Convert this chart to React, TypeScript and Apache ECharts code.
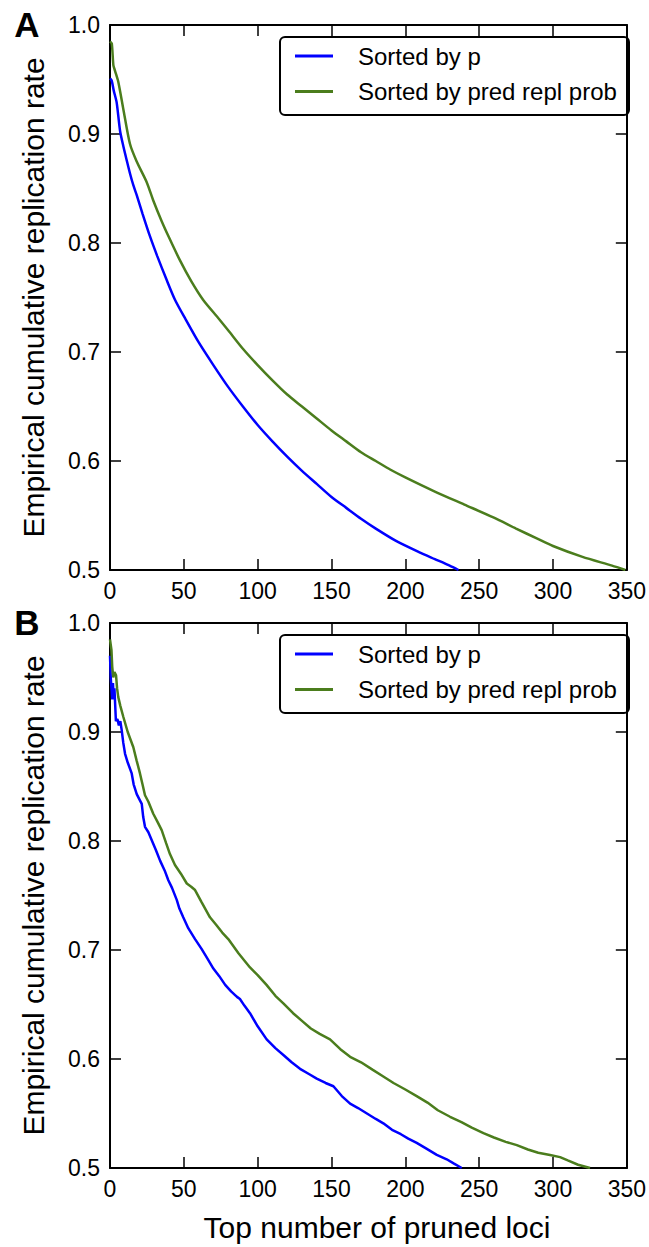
import React, { useEffect, useRef } from "react";
import * as echarts from "echarts";

// ---------- data ----------
const seriesNames = ["Sorted by p", "Sorted by pred repl prob"];
const panelLabels = ["A", "B"];
const yAxisTitle = "Empirical cumulative replication rate";
const xAxisTitle = "Top number of pruned loci";

const xMin = 0;
const xMax = 350;
const xInterval = 50;
const yMin = 0.5;
const yMax = 1.0;
const yInterval = 0.1;

// Panel A
const aPX = [0, 1.15, 2.5, 4.5, 6.8, 9, 11.3, 13.5, 15.8, 18.1, 22, 27.1, 32, 38.4, 44, 50.8, 60, 70, 80, 90, 100, 110, 120, 130, 140, 150, 160, 170, 180, 194, 210, 220, 230, 236];
const aPY = [0.951, 0.949, 0.94, 0.929, 0.903, 0.889, 0.876, 0.864, 0.853, 0.844, 0.827, 0.806, 0.788, 0.766, 0.748, 0.731, 0.709, 0.688, 0.668, 0.65, 0.633, 0.618, 0.604, 0.591, 0.579, 0.567, 0.557, 0.547, 0.538, 0.5265, 0.516, 0.51, 0.504, 0.5];

const aGX = [0, 1.2, 2.3, 3.4, 5.6, 9, 13.5, 18, 24.8, 29.3, 35, 40, 47.4, 55, 63, 73.4, 80, 90, 100, 110, 120, 130, 140, 150, 160, 170, 180, 190, 200, 220, 240, 260, 275, 289, 300, 320, 340, 349];
const aGY = [0.985, 0.983, 0.963, 0.958, 0.948, 0.923, 0.891, 0.875, 0.856, 0.839, 0.82, 0.805, 0.784, 0.765, 0.748, 0.731, 0.72, 0.703, 0.688, 0.674, 0.661, 0.65, 0.639, 0.628, 0.618, 0.608, 0.6, 0.592, 0.585, 0.572, 0.56, 0.548, 0.538, 0.529, 0.522, 0.512, 0.504, 0.5];

// Panel B
const bPX = [0, 0.5, 1, 1.5, 2, 2.5, 3, 3.5, 4, 5, 6, 7, 7.9, 9, 10.2, 12, 14.7, 16, 18.1, 20, 21.5, 22.5, 23.7, 26, 28.2, 31, 33.9, 37, 39.5, 42, 45.2, 47, 49.6, 53, 57.6, 62, 66, 70, 74, 78, 82, 86, 88, 91, 94.8, 100, 106.1, 112, 118, 123, 128.7, 135, 140, 146, 151.3, 157, 162.6, 168, 174, 180, 185.1, 191, 197, 202, 207.7, 214, 221.3, 228, 233, 238.2];
const bPY = [0.97, 0.95, 0.94, 0.93, 0.945, 0.93, 0.94, 0.925, 0.91, 0.912, 0.906, 0.91, 0.902, 0.89, 0.88, 0.872, 0.862, 0.852, 0.843, 0.838, 0.834, 0.822, 0.813, 0.808, 0.801, 0.792, 0.782, 0.773, 0.764, 0.757, 0.746, 0.738, 0.73, 0.72, 0.71, 0.701, 0.692, 0.683, 0.676, 0.668, 0.662, 0.657, 0.655, 0.649, 0.642, 0.63, 0.618, 0.61, 0.603, 0.597, 0.591, 0.586, 0.582, 0.578, 0.575, 0.566, 0.559, 0.555, 0.55, 0.545, 0.541, 0.535, 0.531, 0.527, 0.523, 0.518, 0.512, 0.508, 0.504, 0.5];

const bGX = [0, 1, 1.5, 2.2, 3, 4.1, 4.8, 5.6, 7, 9, 12, 15.8, 18, 20.3, 22, 23.7, 26, 29.3, 32, 35, 38, 40.6, 44, 48, 52, 55, 57.6, 62, 67.7, 72, 76, 80.1, 87, 94.8, 100, 106, 112, 117.4, 124, 130, 136, 142, 149, 156, 162.6, 170, 178, 185.1, 192, 200, 207.7, 215, 222, 230.3, 238, 245, 252.9, 260, 268, 275.5, 283, 290, 298, 304.8, 310, 317, 325.1];
const bGY = [0.985, 0.975, 0.96, 0.95, 0.955, 0.952, 0.94, 0.932, 0.924, 0.914, 0.9, 0.886, 0.874, 0.862, 0.852, 0.842, 0.836, 0.825, 0.818, 0.81, 0.798, 0.788, 0.778, 0.77, 0.761, 0.758, 0.755, 0.744, 0.73, 0.723, 0.716, 0.71, 0.697, 0.684, 0.677, 0.668, 0.658, 0.651, 0.642, 0.635, 0.628, 0.623, 0.618, 0.609, 0.602, 0.597, 0.59, 0.584, 0.578, 0.572, 0.566, 0.56, 0.553, 0.547, 0.542, 0.537, 0.532, 0.528, 0.524, 0.521, 0.517, 0.514, 0.512, 0.51, 0.507, 0.503, 0.5];

const colors = ["#0000ff", "#4b7d1d"];

// ---------- helpers ----------
const pairs = (xs: number[], ys: number[]) => xs.map((x, i) => [x, ys[i]]);

const FONT = '"Liberation Sans", Arial, Helvetica, sans-serif';

export default function App() {
  const ref = useRef<HTMLDivElement>(null);

  useEffect(() => {
    if (!ref.current) return;
    const chart = echarts.init(ref.current, null, { renderer: "svg" });

    const gridTops = [25, 623];
    const gridLeft = 110;
    const gridW = 517;
    const gridH = 545;

    const panelData = [
      [pairs(aPX, aPY), pairs(aGX, aGY)],
      [pairs(bPX, bPY), pairs(bGX, bGY)],
    ];
    const panelSmooth = [0.25, false];

    const grids: any[] = [];
    const xAxes: any[] = [];
    const yAxes: any[] = [];
    const series: any[] = [];
    const graphics: any[] = [];

    const axisLine = { show: true, onZero: false, lineStyle: { color: "#000", width: 2 } };
    const axisTick = { show: true, inside: true, length: 11, lineStyle: { color: "#000", width: 1.5 } };

    gridTops.forEach((top, g) => {
      grids.push({ left: gridLeft, top, width: gridW, height: gridH, containLabel: false });
      const xBase = {
        gridIndex: g, type: "value", min: xMin, max: xMax, interval: xInterval,
        axisLine, axisTick, splitLine: { show: false },
      };
      xAxes.push({
        ...xBase, position: "bottom",
        axisLabel: { show: true, color: "#000", fontSize: 23, fontFamily: FONT, margin: 9 },
      });
      xAxes.push({ ...xBase, position: "top", axisLabel: { show: false } });
      const yBase = {
        gridIndex: g, type: "value", min: yMin, max: yMax, interval: yInterval,
        axisLine, axisTick, splitLine: { show: false },
      };
      yAxes.push({
        ...yBase, position: "left",
        axisLabel: {
          show: true, color: "#000", fontSize: 23, fontFamily: FONT, margin: 10,
          formatter: (v: number) => v.toFixed(1),
        },
      });
      yAxes.push({ ...yBase, position: "right", axisLabel: { show: false } });

      panelData[g].forEach((d, s) => {
        series.push({
          type: "line", name: seriesNames[s], xAxisIndex: 2 * g, yAxisIndex: 2 * g,
          data: d, showSymbol: false, symbol: "none", clip: true, smooth: panelSmooth[g],
          lineStyle: { color: colors[s], width: 2.5 }, itemStyle: { color: colors[s] },
          z: 3,
        });
      });

      // panel letter
      graphics.push({
        type: "text", x: 27, y: top - 1, z: 10,
        style: {
          text: panelLabels[g], fontSize: 35, fontWeight: "bold", fontFamily: FONT,
          fill: "#000", align: "center", verticalAlign: "middle",
        },
      });
      // y title
      graphics.push({
        type: "text", x: 33, y: top + gridH / 2, rotation: Math.PI / 2, z: 10,
        style: {
          text: yAxisTitle, fontSize: 30, fontFamily: FONT, fill: "#000",
          align: "center", verticalAlign: "middle",
        },
      });
      // legend
      const lx = 280, ly = top + 12, lw = 349, lh = 78;
      graphics.push({
        type: "group", z: 20,
        children: [
          { type: "rect", shape: { x: lx, y: ly, width: lw, height: lh, r: 5 },
            style: { fill: "#fff", stroke: "#000", lineWidth: 2 } },
          { type: "line", shape: { x1: 295, y1: ly + 19, x2: 333, y2: ly + 19 },
            style: { stroke: colors[0], lineWidth: 3 } },
          { type: "line", shape: { x1: 295, y1: ly + 54.5, x2: 333, y2: ly + 54.5 },
            style: { stroke: colors[1], lineWidth: 3 } },
          { type: "text", x: 358, y: ly + 19.5,
            style: { text: seriesNames[0], fontSize: 24, fontFamily: FONT, fill: "#000",
              align: "left", verticalAlign: "middle" } },
          { type: "text", x: 358, y: ly + 54.5,
            style: { text: seriesNames[1], fontSize: 24, fontFamily: FONT, fill: "#000",
              align: "left", verticalAlign: "middle" } },
        ],
      });
    });

    graphics.push({
      type: "text", x: 377, y: 1227.5, z: 10,
      style: {
        text: xAxisTitle, fontSize: 30, fontFamily: FONT, fill: "#000",
        align: "center", verticalAlign: "middle",
      },
    });

    chart.setOption({
      animation: false,
      backgroundColor: "#fff",
      textStyle: { fontFamily: FONT },
      grid: grids,
      xAxis: xAxes,
      yAxis: yAxes,
      series,
      graphic: graphics,
    });

    return () => chart.dispose();
  }, []);

  return (
    <div
      ref={ref}
      style={{ position: "absolute", left: 0, top: 0, width: 649, height: 1247, background: "#fff" }}
    />
  );
}
